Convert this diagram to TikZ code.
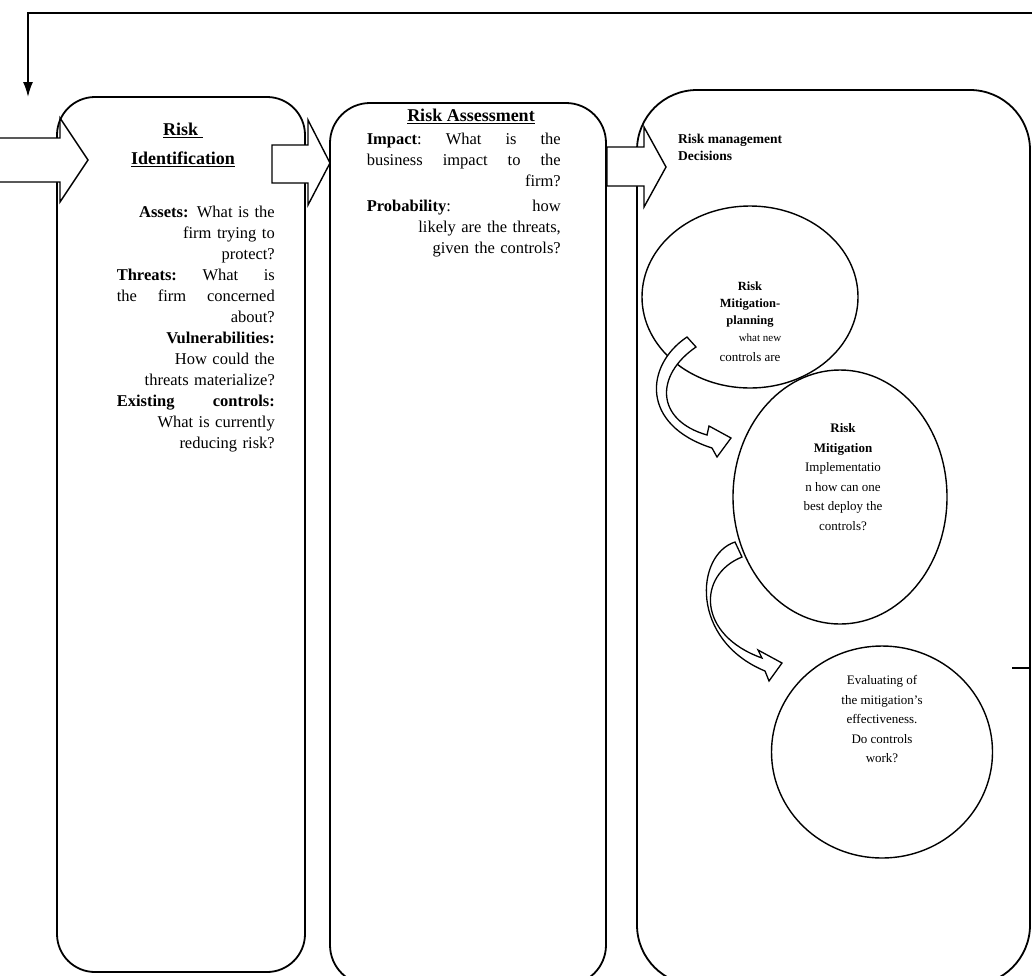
\documentclass[tikz,border=0pt]{standalone}
\usepackage{fontspec}
\setmainfont{Liberation Serif}
\usepackage{tikz}
\usetikzlibrary{arrows.meta,shapes.geometric,positioning}

\tikzset{
  stage/.style={draw,line width=1.8pt,rounded corners=#1,inner sep=0pt},
  bubble/.style={draw,ellipse,line width=1.4pt,inner sep=0pt},
  blockarrow/.style={draw,line width=1.4pt,fill=white,line join=miter},
  bendarrow/.style={draw,line width=1.3pt,fill=white},
  bodytext/.style={inner sep=0pt,align=right,font=\fontsize{16.5}{21}\selectfont},
  head/.style={inner sep=0pt,align=center,font=\fontsize{18}{29}\selectfont\bfseries},
  bubbletext/.style={inner sep=0pt,align=center,font=\fontsize{13}{19.5}\selectfont}
}

\begin{document}
\begin{tikzpicture}[x=1pt,y=-1pt]
  \useasboundingbox (0,0) rectangle (1032,975);

  % the three stages
  \node[stage=38pt,minimum width=248pt,minimum height=875pt] (ident)  at (181,534.5) {};
  \node[stage=40pt,minimum width=276pt,minimum height=882pt] (assess) at (468,544) {};
  \node[stage=60pt,minimum width=393pt,minimum height=895pt] (decide) at (833.5,537.5) {};

  % feedback line from the right
  \coordinate (ret)  at (1034,13);
  \coordinate (into) at (28,97);
  \draw[line width=1.6pt,-{Latex[length=15pt,width=10pt]}] (ret) -| (into);
  \coordinate (tick) at (1012,668);
  \draw[line width=1.6pt] (tick) -- (tick -| decide.east);

  % block arrows
  \path[blockarrow] (-3,138) -- (60,138) -- (60,118) -- (88,160) -- (60,202) -- (60,182) -- (-3,182);
  \path[blockarrow] (272,145) -- (308,145) -- (308,120) -- (330,163) -- (308,205) -- (308,183) -- (272,183) -- cycle;
  \path[blockarrow] (607,147) -- (644,147) -- (644,127) -- (666,167) -- (644,207) -- (644,186) -- (607,186) -- cycle;

  % Risk Identification
  \node[head] (identhead) at (183,145) {\underline{Risk }\\\underline{Identification}};
  \node[bodytext,text width=158pt,anchor=north east] (identbody) at (275,206) {%
    \textbf{Assets:} What is the\\
    firm trying to\\
    protect?\\
    \textbf{Threats:}\hfill What\hfill is\\
    the\hfill firm\hfill concerned\\
    about?\\
    \textbf{Vulnerabilities:}\\
    How could the\\
    threats materialize?\\
    \textbf{Existing}\hfill\textbf{controls:}\\
    What is currently\\
    reducing risk?};

  % Risk Assessment
  \node[head,anchor=north] (assesshead) at (471,109) {\underline{Risk Assessment}};
  \node[bodytext,text width=194pt,anchor=north east] (assessbody) at (561,133) {%
    \textbf{Impact}:\hfill What\hfill is\hfill the\\
    business\hfill impact\hfill to\hfill the\\
    firm?\\[4pt]
    \textbf{Probability}:\hfill how\\
    likely are the threats,\\
    given the controls?};

  % Risk management Decisions
  \node[inner sep=0pt,align=left,anchor=north west,font=\fontsize{13.5}{17}\selectfont\bfseries]
    (decidehead) at (678,134) {Risk management\\Decisions};

  % mitigation steps
  \node[bubble,minimum width=216pt,minimum height=182pt] (plan)  at (750,297) {};
  \node[bubble,minimum width=214pt,minimum height=254pt] (impl)  at (840,497) {};
  \node[bubble,minimum width=221pt,minimum height=212pt] (check) at (882,752) {};

  \node[bubbletext,font=\fontsize{12.5}{17}\selectfont] (plantext) at (750,322) {%
    \textbf{Risk}\\\textbf{Mitigation-}\\\textbf{planning}\hspace*{0.8em}\\
    \hspace*{1.6em}{\fontsize{11}{17}\selectfont what new}\\[3pt]
    {\fontsize{13}{17}\selectfont controls are}};
  \node[bubbletext] (impltext) at (843,477) {%
    \textbf{Risk}\\\textbf{Mitigation}\\Implementatio\\n how can one\\best deploy the\\controls?};
  \node[bubbletext] (checktext) at (882,719) {%
    Evaluating of\\the mitigation's\\effectiveness.\\Do controls\\work?};

  % curved arrows between the steps
  \path[bendarrow] (687,337) .. controls (645,365) and (640,425) .. (712,448)
    -- (717,457) -- (731,438) -- (709,426) -- (707,435)
    .. controls (655,420) and (655,375) .. (696,347) -- cycle;
  \path[bendarrow] (735,542) .. controls (695,555) and (690,640) .. (765,671)
    -- (769,681) -- (782,663) -- (758,650) -- (762,658)
    .. controls (697,635) and (697,575) .. (742,557) -- cycle;
\end{tikzpicture}
\end{document}
